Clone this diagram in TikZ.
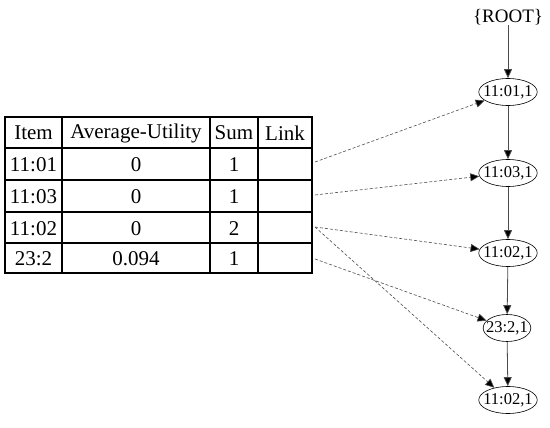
\documentclass[tikz,border=0pt]{standalone}
\usepackage{fontspec}
\setmainfont{Liberation Serif}
\usetikzlibrary{arrows.meta,shapes.geometric}
\begin{document}
\begin{tikzpicture}[x=1pt,y=-1pt,
  cell/.style={inner sep=0pt,font=\fontsize{21}{24}\selectfont},
  tnode/.style={ellipse,draw,line width=0.6pt,minimum height=27pt,inner xsep=-4pt,inner ysep=0pt,font=\fontsize{16.5}{19}\selectfont},
  tarrow/.style={draw=black!70,line width=0.8pt,-{Triangle[length=9pt,width=8pt,fill=black]}},
  darrow/.style={draw=black!70,line width=0.6pt,dash pattern=on 3pt off 2pt,-{Triangle[length=9pt,width=8pt,fill=black]}}]
\useasboundingbox (0,0) rectangle (550,428);
% table grid
\draw[line width=1.2pt] (5,117) rectangle (312,273);
\foreach \y in {148,180,212,243} \draw[line width=1.2pt] (5,\y) -- (312,\y);
\foreach \x in {62,210,258} \draw[line width=1.2pt] (\x,117) -- (\x,273);
% header
\node[cell] (h1) at (33.5,133) {Item};
\node[cell] (h2) at (136,133) {Average-Utility};
\node[cell] (h3) at (234,133) {Sum};
\node[cell] (h4) at (285,133) {Link};
% rows
\node[cell] (a1) at (33.5,164.5) {11:01};
\node[cell] (b1) at (136,164.5) {0};
\node[cell] (c1) at (234,164.5) {1};
\node[cell] (a2) at (33.5,196.5) {11:03};
\node[cell] (b2) at (136,196.5) {0};
\node[cell] (c2) at (234,196.5) {1};
\node[cell] (a3) at (33.5,228.5) {11:02};
\node[cell] (b3) at (136,228.5) {0};
\node[cell] (c3) at (234,228.5) {2};
\node[cell] (a4) at (33.5,258.5) {23:2};
\node[cell] (b4) at (136,258.5) {0.094};
\node[cell] (c4) at (234,258.5) {1};
% link coordinates
\coordinate (l1) at (315,162);
\coordinate (l2) at (315,195);
\coordinate (l3) at (315,227);
\coordinate (l4) at (315,259);
% tree
\node[inner sep=0pt,font=\fontsize{19}{22}\selectfont] (root) at (508,17) {\{ROOT\}};
\node[tnode] (n1) at (508,92) {11:01,1};
\node[tnode] (n2) at (508,173) {11:03,1};
\node[tnode] (n3) at (508,253) {11:02,1};
\node[tnode] (n4) at (507,328) {23:2,1};
\node[tnode] (n5) at (508,400) {11:02,1};
\draw[tarrow] (root) -- (n1);
\draw[tarrow] (n1) -- (n2);
\draw[tarrow] (n2) -- (n3);
\draw[tarrow] (n3) -- (n4);
\draw[tarrow] (n4) -- (n5);
% links
\draw[darrow] (l1) -- (n1);
\draw[darrow] (l2) -- (n2);
\draw[darrow] (l3) -- (n3);
\draw[darrow] (l3) -- (n5);
\draw[darrow] (l4) -- (n4);
\end{tikzpicture}
\end{document}
